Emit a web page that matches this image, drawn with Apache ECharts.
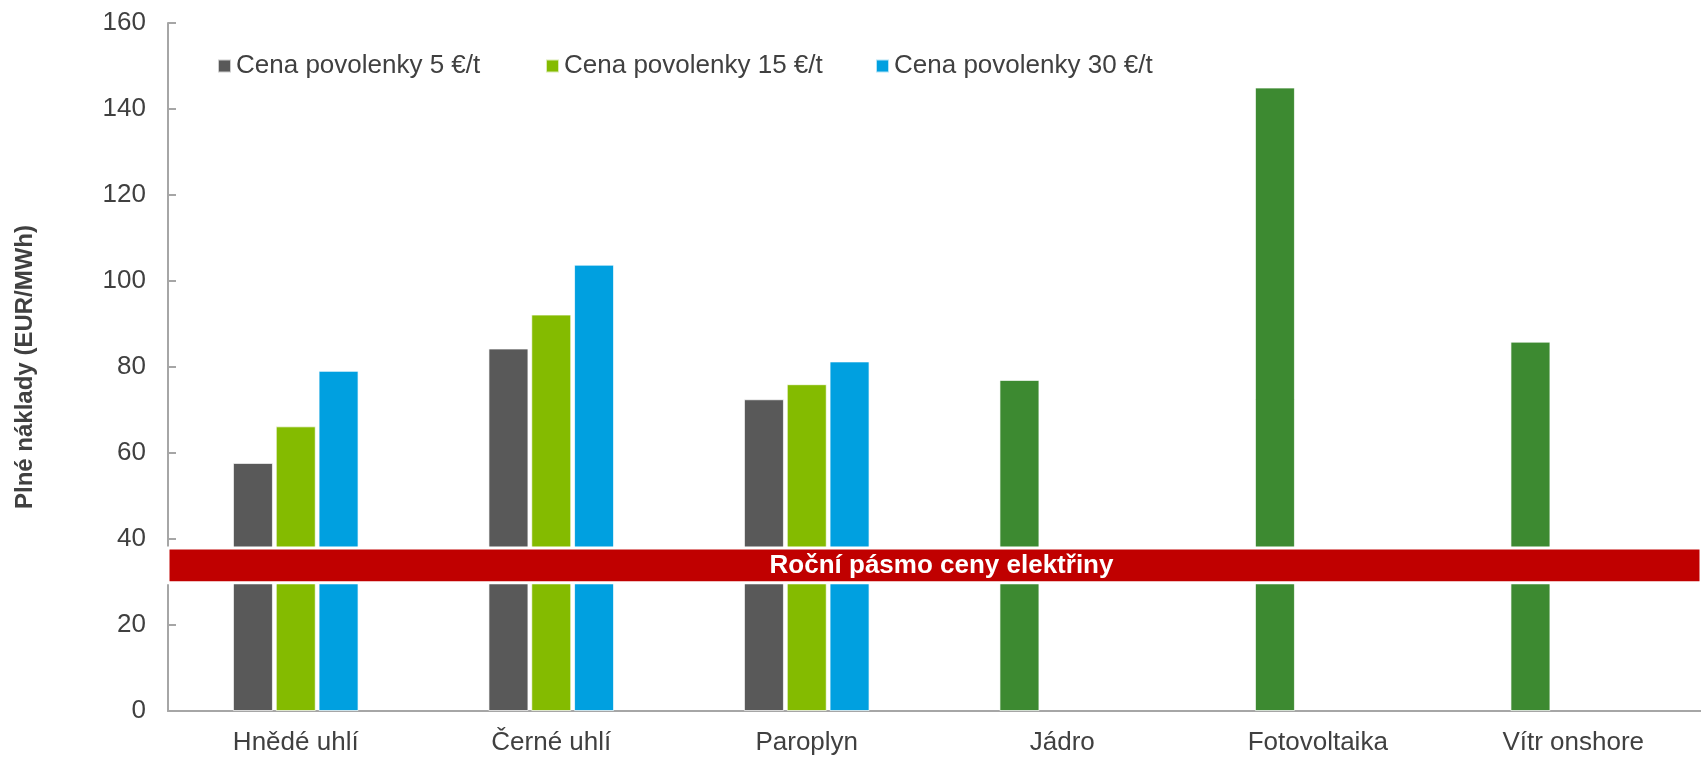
<!DOCTYPE html>
<html>
<head>
<meta charset="utf-8">
<script src="https://cdn.jsdelivr.net/npm/echarts@6/dist/echarts.min.js"></script>
<style>
html,body{margin:0;padding:0;background:#fff;}
#chart{width:1701px;height:757px;}
</style>
</head>
<body>
<div id="chart"></div>
<script>
const categories = ['Hnědé uhlí', 'Černé uhlí', 'Paroplyn', 'Jádro', 'Fotovoltaika', 'Vítr onshore'];
const seriesNames = ['Cena povolenky 5 €/t', 'Cena povolenky 15 €/t', 'Cena povolenky 30 €/t'];
const price5 = [57.7, 84.3, 72.5, 77.0, 145.0, 85.9];
const price15 = [66.2, 92.2, 76.0, null, null, null];
const price30 = [79.1, 103.8, 81.3, null, null, null];
const renewableIdx = [3, 4, 5];
const bandRange = [29.8, 37.9];
const bandLabel = 'Roční pásmo ceny elektřiny';
const yTicks = { min: 0, max: 160, interval: 20 };
const yTitle = 'Plné náklady (EUR/MWh)';

const colors = ['#595959', '#84BB00', '#00A0E0'];
const darkGreen = '#3D8A31';
const textColor = '#404040';
const font = '"Liberation Sans", Arial, sans-serif';

const chart = echarts.init(document.getElementById('chart'));

const barStyle = { borderColor: 'rgba(255,255,255,0.7)', borderWidth: 1 };

const s1data = price5.map((v, i) => renewableIdx.includes(i)
  ? { value: v, itemStyle: { color: darkGreen } } : v);

function legendAt(left, name) {
  return {
    left: left, top: 53, data: [name], icon: 'rect', itemWidth: 13, itemHeight: 13,
    itemGap: 0, selectedMode: false,
    textStyle: { fontFamily: font, fontSize: 26, color: textColor, padding: [0, 0, 0, 0] },
    padding: 0
  };
}

chart.setOption({
  animation: false,
  color: colors,
  textStyle: { fontFamily: font },
  legend: [legendAt(217, seriesNames[0]), legendAt(545, seriesNames[1]), legendAt(875, seriesNames[2])],
  grid: { left: 168, right: 0, top: 23, bottom: 46, containLabel: false, outerBoundsMode: 'none' },
  xAxis: {
    type: 'category', data: categories,
    axisLine: { lineStyle: { color: '#A6A6A6', width: 2 } },
    axisTick: { show: false },
    axisLabel: { fontFamily: font, fontSize: 26, color: textColor, margin: 19 }
  },
  yAxis: {
    type: 'value', min: yTicks.min, max: yTicks.max, interval: yTicks.interval,
    name: yTitle, nameLocation: 'middle', nameRotate: 90, nameGap: 131,
    nameTextStyle: { fontFamily: font, fontSize: 24, fontWeight: 'bold', color: textColor },
    axisLine: { show: true, lineStyle: { color: '#A6A6A6', width: 2 } },
    axisTick: { show: true, inside: true, length: 8, lineStyle: { color: '#A6A6A6', width: 2 } },
    splitLine: { show: false },
    axisLabel: { fontFamily: font, fontSize: 26, color: textColor, margin: 22 }
  },
  series: [
    { name: seriesNames[0], type: 'bar', data: s1data, barWidth: 40, barGap: '7%', itemStyle: barStyle, z: 2 },
    { name: seriesNames[1], type: 'bar', data: price15, barWidth: 40, barGap: '7%', itemStyle: barStyle, z: 2 },
    { name: seriesNames[2], type: 'bar', data: price30, barWidth: 40, barGap: '7%', itemStyle: barStyle, z: 2 },
    {
      name: 'band', type: 'line', data: [], z: 10, silent: true,
      markArea: {
        silent: true, z: 20,
        itemStyle: { color: '#C00000', borderColor: '#ffffff', borderWidth: 3 },
        label: {
          show: true, position: 'inside', offset: [7, 0],
          formatter: bandLabel, color: '#ffffff', fontFamily: font, fontSize: 26, fontWeight: 'bold'
        },
        data: [[{ yAxis: bandRange[0] }, { yAxis: bandRange[1] }]]
      }
    }
  ]
});
</script>
</body>
</html>
